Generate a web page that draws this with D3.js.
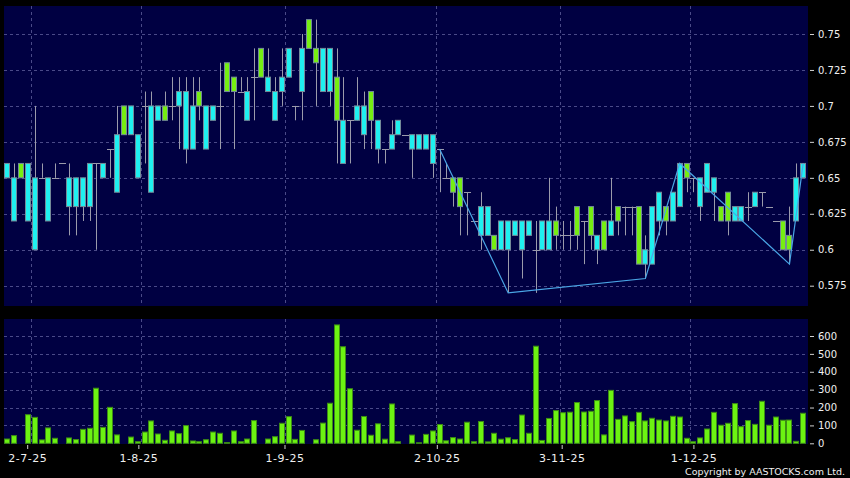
<!DOCTYPE html>
<html>
<head>
<meta charset="utf-8">
<script src="https://cdn.jsdelivr.net/npm/d3@7"></script>
<style>
  body { margin: 0; background: #000; }
  svg { display: block; font-family: "DejaVu Sans", sans-serif; }
</style>
</head>
<body>
<div id="wrapper"></div>
<script>
// daily candles, oldest first
const opens = [
  .65,.62,.66,.62,.60,.65,.62,.65,.66,.63, .63,.63,.63,.66,.65,.67,.64,.70,.68,.65,
  .70,.64,.69,.70,.70,.70,.67,.67,.71,.67, .69,.70,.73,.72,.71,.69,.72,.74,.71,.69,
  .71,.72,.70,.71,.76,.74,.71,.71,.72,.66, .69,.69,.68,.71,.67,.67,.67,.68,.68,.67,
  .67,.67,.66,.67,.65,.65,.65,.64,.62,.61, .61,.61,.60,.60,.61,.60,.61,.60,.60,.60,
  .62,.61,.61,.63,.62,.63,.60,.62,.61,.63, .63,.63,.63,.59,.59,.62,.63,.62,.63,.66,
  .65,.63,.64,.64,.63,.64,.62,.62,.63,.63, .64,.63,.62,.62,.61,.62,.65
]
const highs = [
  .66,.66,.66,.66,.70,.66,.65,.66,.66,.66, .65,.65,.66,.66,.66,.67,.70,.70,.70,.68,
  .71,.71,.70,.71,.72,.72,.72,.72,.72,.70, .70,.73,.73,.72,.72,.72,.74,.74,.74,.72,
  .74,.74,.70,.75,.76,.76,.74,.74,.74,.72, .69,.72,.71,.71,.69,.67,.69,.69,.68,.68,
  .68,.68,.68,.67,.66,.65,.65,.64,.62,.64, .63,.61,.62,.62,.62,.62,.62,.62,.62,.65,
  .63,.62,.62,.63,.62,.63,.61,.62,.65,.63, .63,.63,.63,.61,.63,.64,.63,.64,.66,.66,
  .65,.65,.66,.65,.63,.64,.63,.63,.64,.64, .64,.63,.62,.62,.63,.66,.66
]
const lows = [
  .65,.62,.65,.62,.60,.65,.62,.65,.66,.61, .61,.62,.62,.60,.65,.65,.64,.68,.68,.65,
  .66,.64,.69,.69,.69,.67,.66,.67,.69,.67, .69,.67,.71,.67,.71,.69,.69,.72,.71,.69,
  .70,.72,.69,.69,.74,.70,.71,.70,.66,.66, .66,.69,.67,.67,.66,.66,.67,.68,.68,.65,
  .67,.67,.65,.64,.65,.63,.61,.61,.62,.60, .61,.60,.60,.57,.61,.58,.61,.57,.60,.60,
  .60,.60,.60,.60,.59,.60,.59,.60,.61,.61, .61,.61,.59,.58,.59,.61,.61,.62,.63,.64,
  .64,.62,.64,.62,.62,.61,.62,.62,.62,.63, .63,.63,.62,.60,.59,.62,.65
]
const closes = [
  .66,.65,.65,.66,.65,.65,.65,.65,.66,.65, .65,.65,.66,.66,.66,.67,.68,.68,.70,.68,
  .70,.70,.70,.69,.70,.71,.71,.70,.70,.70, .70,.70,.71,.71,.71,.71,.72,.72,.72,.71,
  .72,.74,.70,.74,.74,.73,.74,.74,.69,.69, .69,.70,.70,.69,.69,.67,.68,.69,.68,.68,
  .68,.68,.68,.67,.65,.64,.63,.64,.62,.63, .63,.60,.62,.62,.62,.62,.62,.60,.62,.62,
  .61,.61,.61,.61,.62,.61,.61,.60,.62,.62, .63,.63,.59,.60,.63,.64,.62,.64,.66,.65,
  .65,.65,.66,.65,.62,.62,.63,.63,.63,.64, .64,.63,.62,.60,.60,.65,.66
]
// volume ('000 shares)
const volumes = [
   24, 43,  0,160,145, 19, 86, 28,  0, 30,  21, 78, 84,308, 89,201, 47,  0, 35,  9,
   63,125, 52, 17, 69, 54, 99, 13,  9, 20,  63, 56,  4, 69,  9, 24,127,  0, 24, 37,
  112,149, 22, 72,  0, 20,113,224,662,540, 305, 73,150, 45,109, 23,220,  9,  0, 46,
    3, 50, 69,105, 14, 32, 24,118,  9,122,   8, 56, 23, 31, 21,158, 56,543, 16,139,
  183,171,174,228,175,179,239, 47,296,134, 153,121,173,125,140,130,125,151,147, 28,
    9, 30, 80,173,101,112,222, 93,127,106, 235,101,147,129,130, 11,168
]

// zigzag turning points: [candle index, price]
const zigzagIdx = [63, 73, 93, 98, 114, 116]
const zigzagPrice = [.67, .57, .58, .66, .59, .66]

// first candle of each month (grid) and where its date label sits
const monthIdx = [4, 20, 41, 63, 81, 100]
const monthLabelIdx = [2.9, 19.1, 40.4, 62.6, 80.8, 100]
const monthLabels = ["2-7-25", "1-8-25", "1-9-25", "2-10-25", "3-11-25", "1-12-25"]

const priceTicks = [0.575, 0.6, 0.625, 0.65, 0.675, 0.7, 0.725, 0.75]
const volumeTicks = [0, 100, 200, 300, 400, 500, 600]

const candles = opens.map((o, i) => ({
  i, o, h: highs[i], l: lows[i], c: closes[i], v: volumes[i],
}))

// dimensions
const dimensions = {
  width: 850,
  height: 478,
  left: 4,
  right: 808,
  priceTop: 6,
  priceBottom: 306,
  volTop: 319,
  volBottom: 444,
  bodyWidth: 6,
}

const colors = {
  panel: "#000042",
  grid: "#4a4a88",
  wick: "#9b9bab",
  border: "#738a99",
  up: "#1ff0f0",
  down: "#76ee12",
  vol: "#6cf212",
  volBorder: "#3c8c14",
  zigzag: "#4aa6e6",
  text: "#f0f0f0",
}

const svg = d3.select("#wrapper")
  .append("svg")
    .attr("width", dimensions.width)
    .attr("height", dimensions.height)
    .style("background", "#000")

// scales
const xScale = d3.scaleLinear()
  .domain([0, candles.length - 1])
  .range([7.3, 803.2])

const yScale = d3.scaleLinear()
  .domain([0.575, 0.75])
  .range([285.7, 34])

const volScale = d3.scaleLinear()
  .domain([0, 600])
  .range([443.3, 336])

const px = v => Math.round(v) + 0.5

// panels
const panels = [
  [dimensions.priceTop, dimensions.priceBottom],
  [dimensions.volTop, dimensions.volBottom],
]
svg.selectAll(".panel")
  .data(panels)
  .enter().append("rect")
    .attr("class", "panel")
    .attr("x", dimensions.left)
    .attr("y", d => d[0])
    .attr("width", dimensions.right - dimensions.left)
    .attr("height", d => d[1] - d[0])
    .attr("fill", colors.panel)

// grid
const gridGroup = svg.append("g")
  .attr("stroke", colors.grid)
  .attr("stroke-dasharray", "3,3")
  .attr("stroke-width", 1)

gridGroup.selectAll(".price-grid")
  .data(priceTicks)
  .enter().append("line")
    .attr("x1", dimensions.left)
    .attr("x2", dimensions.right)
    .attr("y1", d => px(yScale(d)))
    .attr("y2", d => px(yScale(d)))

gridGroup.selectAll(".vol-grid")
  .data(volumeTicks.filter(d => d > 0))
  .enter().append("line")
    .attr("x1", dimensions.left)
    .attr("x2", dimensions.right)
    .attr("y1", d => px(volScale(d)))
    .attr("y2", d => px(volScale(d)))

panels.forEach(([top, bottom]) => {
  gridGroup.append("g").selectAll("line")
    .data(monthIdx)
    .enter().append("line")
      .attr("x1", d => px(xScale(d - 0.5)))
      .attr("x2", d => px(xScale(d - 0.5)))
      .attr("y1", top)
      .attr("y2", bottom)
})

// candles
const candleGroup = svg.append("g")

candleGroup.selectAll(".wick")
  .data(candles.filter(d => d.h > d.l))
  .enter().append("line")
    .attr("class", "wick")
    .attr("x1", d => px(xScale(d.i)))
    .attr("x2", d => px(xScale(d.i)))
    .attr("y1", d => yScale(d.h))
    .attr("y2", d => yScale(d.l))
    .attr("stroke", colors.wick)

candleGroup.selectAll(".flat")
  .data(candles.filter(d => d.o == d.c))
  .enter().append("line")
    .attr("class", "flat")
    .attr("x1", d => Math.round(xScale(d.i) - dimensions.bodyWidth / 2))
    .attr("x2", d => Math.round(xScale(d.i) + dimensions.bodyWidth / 2) + 1)
    .attr("y1", d => px(yScale(d.o)))
    .attr("y2", d => px(yScale(d.o)))
    .attr("stroke", colors.wick)

candleGroup.selectAll(".body")
  .data(candles.filter(d => d.o != d.c))
  .enter().append("rect")
    .attr("class", "body")
    .attr("x", d => px(xScale(d.i) - dimensions.bodyWidth / 2))
    .attr("width", dimensions.bodyWidth - 1)
    .attr("y", d => yScale(Math.max(d.o, d.c)))
    .attr("height", d => yScale(Math.min(d.o, d.c)) - yScale(Math.max(d.o, d.c)))
    .attr("fill", d => d.c > d.o ? colors.up : colors.down)
    .attr("stroke", colors.border)

// zigzag
const zigzagLine = d3.line()
  .x(d => xScale(d[0]))
  .y(d => yScale(d[1]))

svg.append("path")
  .datum(zigzagIdx.map((d, i) => [d, zigzagPrice[i]]))
  .attr("d", zigzagLine)
  .attr("fill", "none")
  .attr("stroke", colors.zigzag)
  .attr("stroke-width", 1.2)

// volume
svg.append("g").selectAll(".vol-bar")
  .data(candles.filter(d => d.v > 0))
  .enter().append("rect")
    .attr("class", "vol-bar")
    .attr("x", d => px(xScale(d.i) - dimensions.bodyWidth / 2))
    .attr("width", dimensions.bodyWidth - 1)
    .attr("y", d => volScale(d.v))
    .attr("height", d => volScale(0) - volScale(d.v))
    .attr("fill", colors.vol)
    .attr("stroke", colors.volBorder)

// axes
const styleAxis = g => {
  g.select(".domain").remove()
  g.selectAll(".tick line").attr("stroke", "#d0d0d0")
  g.selectAll(".tick text").attr("fill", colors.text)
}

svg.append("g")
  .attr("transform", `translate(810, 0)`)
  .call(d3.axisRight(yScale).tickValues(priceTicks).tickSize(4).tickPadding(4).tickFormat(d => String(d)))
  .style("font-size", "10px")
  .style("font-family", "DejaVu Sans")
  .call(styleAxis)

svg.append("g")
  .attr("transform", `translate(810, 0)`)
  .call(d3.axisRight(volScale).tickValues(volumeTicks).tickSize(4).tickPadding(4))
  .style("font-size", "10px")
  .style("font-family", "DejaVu Sans")
  .call(styleAxis)

const dateAxis = d3.axisBottom(xScale)
  .tickValues(monthLabelIdx)
  .tickSize(4)
  .tickPadding(5)
  .tickFormat((d, i) => monthLabels[i])

svg.append("g")
  .attr("transform", `translate(0, ${dimensions.volBottom + 1})`)
  .call(dateAxis)
  .style("font-size", "11px")
  .style("font-family", "DejaVu Sans")
  .style("letter-spacing", "0.5px")
  .call(styleAxis)

svg.append("text")
  .attr("x", 845)
  .attr("y", 475)
  .attr("text-anchor", "end")
  .attr("fill", colors.text)
  .style("font-size", "9.5px")
  .text("Copyright by AASTOCKS.com Ltd.")
</script>
</body>
</html>
